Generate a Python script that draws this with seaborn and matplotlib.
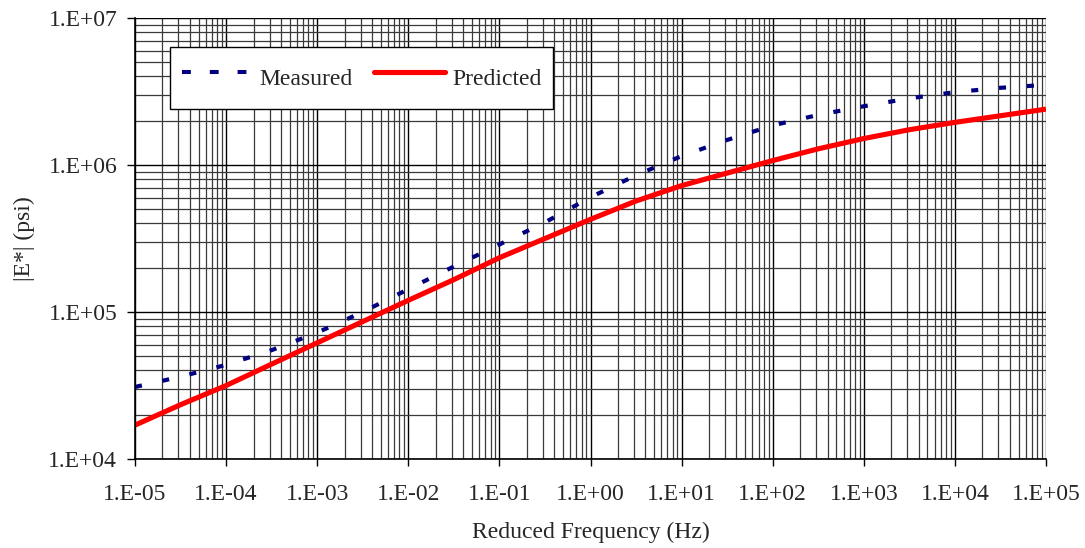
import numpy as np
import pandas as pd
import matplotlib
matplotlib.use("Agg")
import matplotlib.pyplot as plt
import seaborn as sns
from matplotlib.ticker import LogLocator, FuncFormatter, NullFormatter
from matplotlib.lines import Line2D

# ---- data ----
freq = [1e-5, 3.16e-5, 1e-4, 3.16e-4, 1e-3, 3.16e-3, 1e-2, 3.16e-2, 1e-1, 3.16e-1,
        1e0, 3.16e0, 1e1, 3.16e1, 1e2, 3.16e2, 1e3, 3.16e3, 1e4, 3.16e4, 1e5]
measured = [30900, 36300, 43700, 55000, 72400, 100000, 143000, 204000, 288000, 407000,
            603000, 851000, 1150000, 1480000, 1860000, 2190000, 2510000, 2840000,
            3130000, 3350000, 3510000]
predicted = [17000, 23400, 31600, 44200, 61700, 86100, 120000, 166000, 234000, 316000,
             427000, 569000, 724000, 881000, 1072000, 1288000, 1514000, 1738000,
             1950000, 2163000, 2399000]
series_names = ["Measured", "Predicted"]
x_label = "Reduced Frequency (Hz)"
y_label = "|E*| (psi)"

df = pd.DataFrame({
    "freq": freq * 2,
    "E": measured + predicted,
    "series": [series_names[0]] * len(freq) + [series_names[1]] * len(freq),
})

sns.set_style("white")
plt.rcParams["font.family"] = ["Liberation Serif", "DejaVu Serif"]

fig = plt.figure(figsize=(10.85, 5.48), dpi=100)
ax = fig.add_axes([135 / 1085, 1 - 459 / 548, (1046 - 135) / 1085, (459 - 18) / 548])

ax.set_xscale("log")
ax.set_yscale("log")
ax.set_xlim(1e-5, 1e5)
ax.set_ylim(1e4, 1e7)

# grid
ax.xaxis.set_major_locator(LogLocator(base=10, numticks=20))
ax.yaxis.set_major_locator(LogLocator(base=10, numticks=20))
ax.xaxis.set_minor_locator(LogLocator(base=10, subs=np.arange(2, 10), numticks=200))
ax.yaxis.set_minor_locator(LogLocator(base=10, subs=np.arange(2, 10), numticks=200))
ax.grid(which="major", color="black", linewidth=1.0)
ax.grid(which="minor", color="#3a3a3a", linewidth=0.9)
ax.set_axisbelow(True)

sns.lineplot(data=df, x="freq", y="E", hue="series", style="series",
             palette={"Measured": "#000080", "Predicted": "#FF0000"},
             dashes={"Measured": (1.7, 5.0), "Predicted": ""},
             linewidth=3.0, ax=ax, legend=False)
for ln in ax.get_lines():
    c = matplotlib.colors.to_hex(ln.get_color())
    if c.lower() == "#ff0000":
        ln.set_linewidth(3.7)
    ln.set_solid_capstyle("butt")
    ln.set_dash_capstyle("butt")

# ticks
fmt = FuncFormatter(lambda v, p: "1.E%+03d" % int(round(np.log10(v))))
ax.xaxis.set_major_formatter(fmt)
ax.yaxis.set_major_formatter(fmt)
ax.xaxis.set_minor_formatter(NullFormatter())
ax.yaxis.set_minor_formatter(NullFormatter())
ax.tick_params(axis="x", which="major", direction="out", length=5, width=1,
               color="black", labelsize=17, bottom=True, pad=13)
ax.tick_params(axis="y", which="major", direction="out", length=5.8, width=1,
               color="black", labelsize=17, left=True, pad=7)
ax.tick_params(axis="both", which="minor", length=0)

for s in ["top", "right"]:
    ax.spines[s].set_visible(False)
for s in ["left", "bottom"]:
    ax.spines[s].set_color("black")
    ax.spines[s].set_linewidth(1.2)

ax.set_xlabel(x_label, fontsize=17, labelpad=12)
ax.set_ylabel(y_label, fontsize=17)
ax.yaxis.set_label_coords(-0.11, 0.50)

# legend
handles = [Line2D([], [], color="#000080", linewidth=2.9, linestyle=(0, (2.2, 4.7)),
                  dash_capstyle="butt"),
           Line2D([], [], color="#FF0000", linewidth=3.7, solid_capstyle="round")]
leg = fig.legend(handles, series_names, loc="upper left",
                 bbox_to_anchor=(170 / 1085, 1 - 47 / 548), bbox_transform=fig.transFigure,
                 ncol=2, fontsize=17, frameon=True, fancybox=False, framealpha=1,
                 edgecolor="black", handlelength=3.0, handleheight=2.1,
                 handletextpad=0.3, columnspacing=0.9, borderpad=0.5, borderaxespad=0)
leg.get_frame().set_linewidth(1.0)

fig.savefig("out.png", dpi=100)
